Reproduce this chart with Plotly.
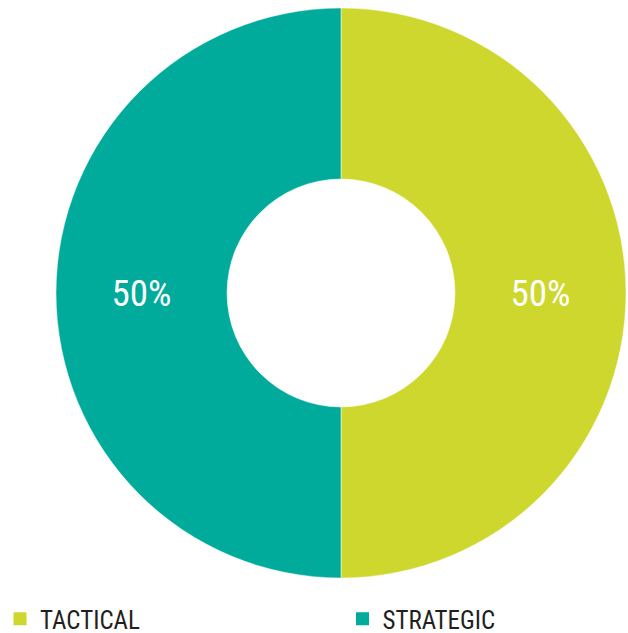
import plotly.graph_objects as go

# Share of initiatives by type
categories = ["TACTICAL", "STRATEGIC"]
values = [50, 50]
colors = ["#CED72D", "#00AB9B"]

W, H = 628, 633
FONT = "Roboto Condensed, DejaVu Sans Condensed, Liberation Sans Narrow, Roboto, sans-serif"

fig = go.Figure()

fig.add_trace(
    go.Pie(
        labels=categories,
        values=values,
        hole=0.40,
        sort=False,
        direction="clockwise",
        rotation=0,
        marker=dict(colors=colors, line=dict(color="rgba(255,255,255,0.6)", width=0.8)),
        textinfo="percent",
        texttemplate="%{percent:.0%}",
        textposition="inside",
        insidetextorientation="horizontal",
        textfont=dict(family=FONT, size=37, color="white"),
        domain=dict(x=[56 / W, 626 / W], y=[1 - 578 / H, 1 - 8 / H]),
        hoverinfo="label+percent",
        showlegend=False,
    )
)

# Legend keys, one legend per category so they can sit apart on the bottom row
legend_ids = ["legend", "legend2"]
for name, color, lg in zip(categories, colors, legend_ids):
    fig.add_trace(
        go.Scatter(
            x=[None],
            y=[None],
            mode="markers",
            name=name,
            marker=dict(symbol="square", size=13, color=color),
            legend=lg,
            showlegend=True,
            hoverinfo="skip",
        )
    )

legend_style = dict(
    orientation="h",
    xanchor="left",
    yanchor="middle",
    y=(H - 619) / H,
    font=dict(family=FONT, size=25, color="#231F20"),
    bgcolor="rgba(0,0,0,0)",
)

fig.update_layout(
    width=W,
    height=H,
    margin=dict(l=0, r=0, t=0, b=0, autoexpand=False),
    paper_bgcolor="white",
    plot_bgcolor="white",
    xaxis=dict(visible=False),
    yaxis=dict(visible=False),
    legend=dict(x=0.0, **legend_style),
    legend2=dict(x=342.5 / W, **legend_style),
)

fig.write_html("out.html")
